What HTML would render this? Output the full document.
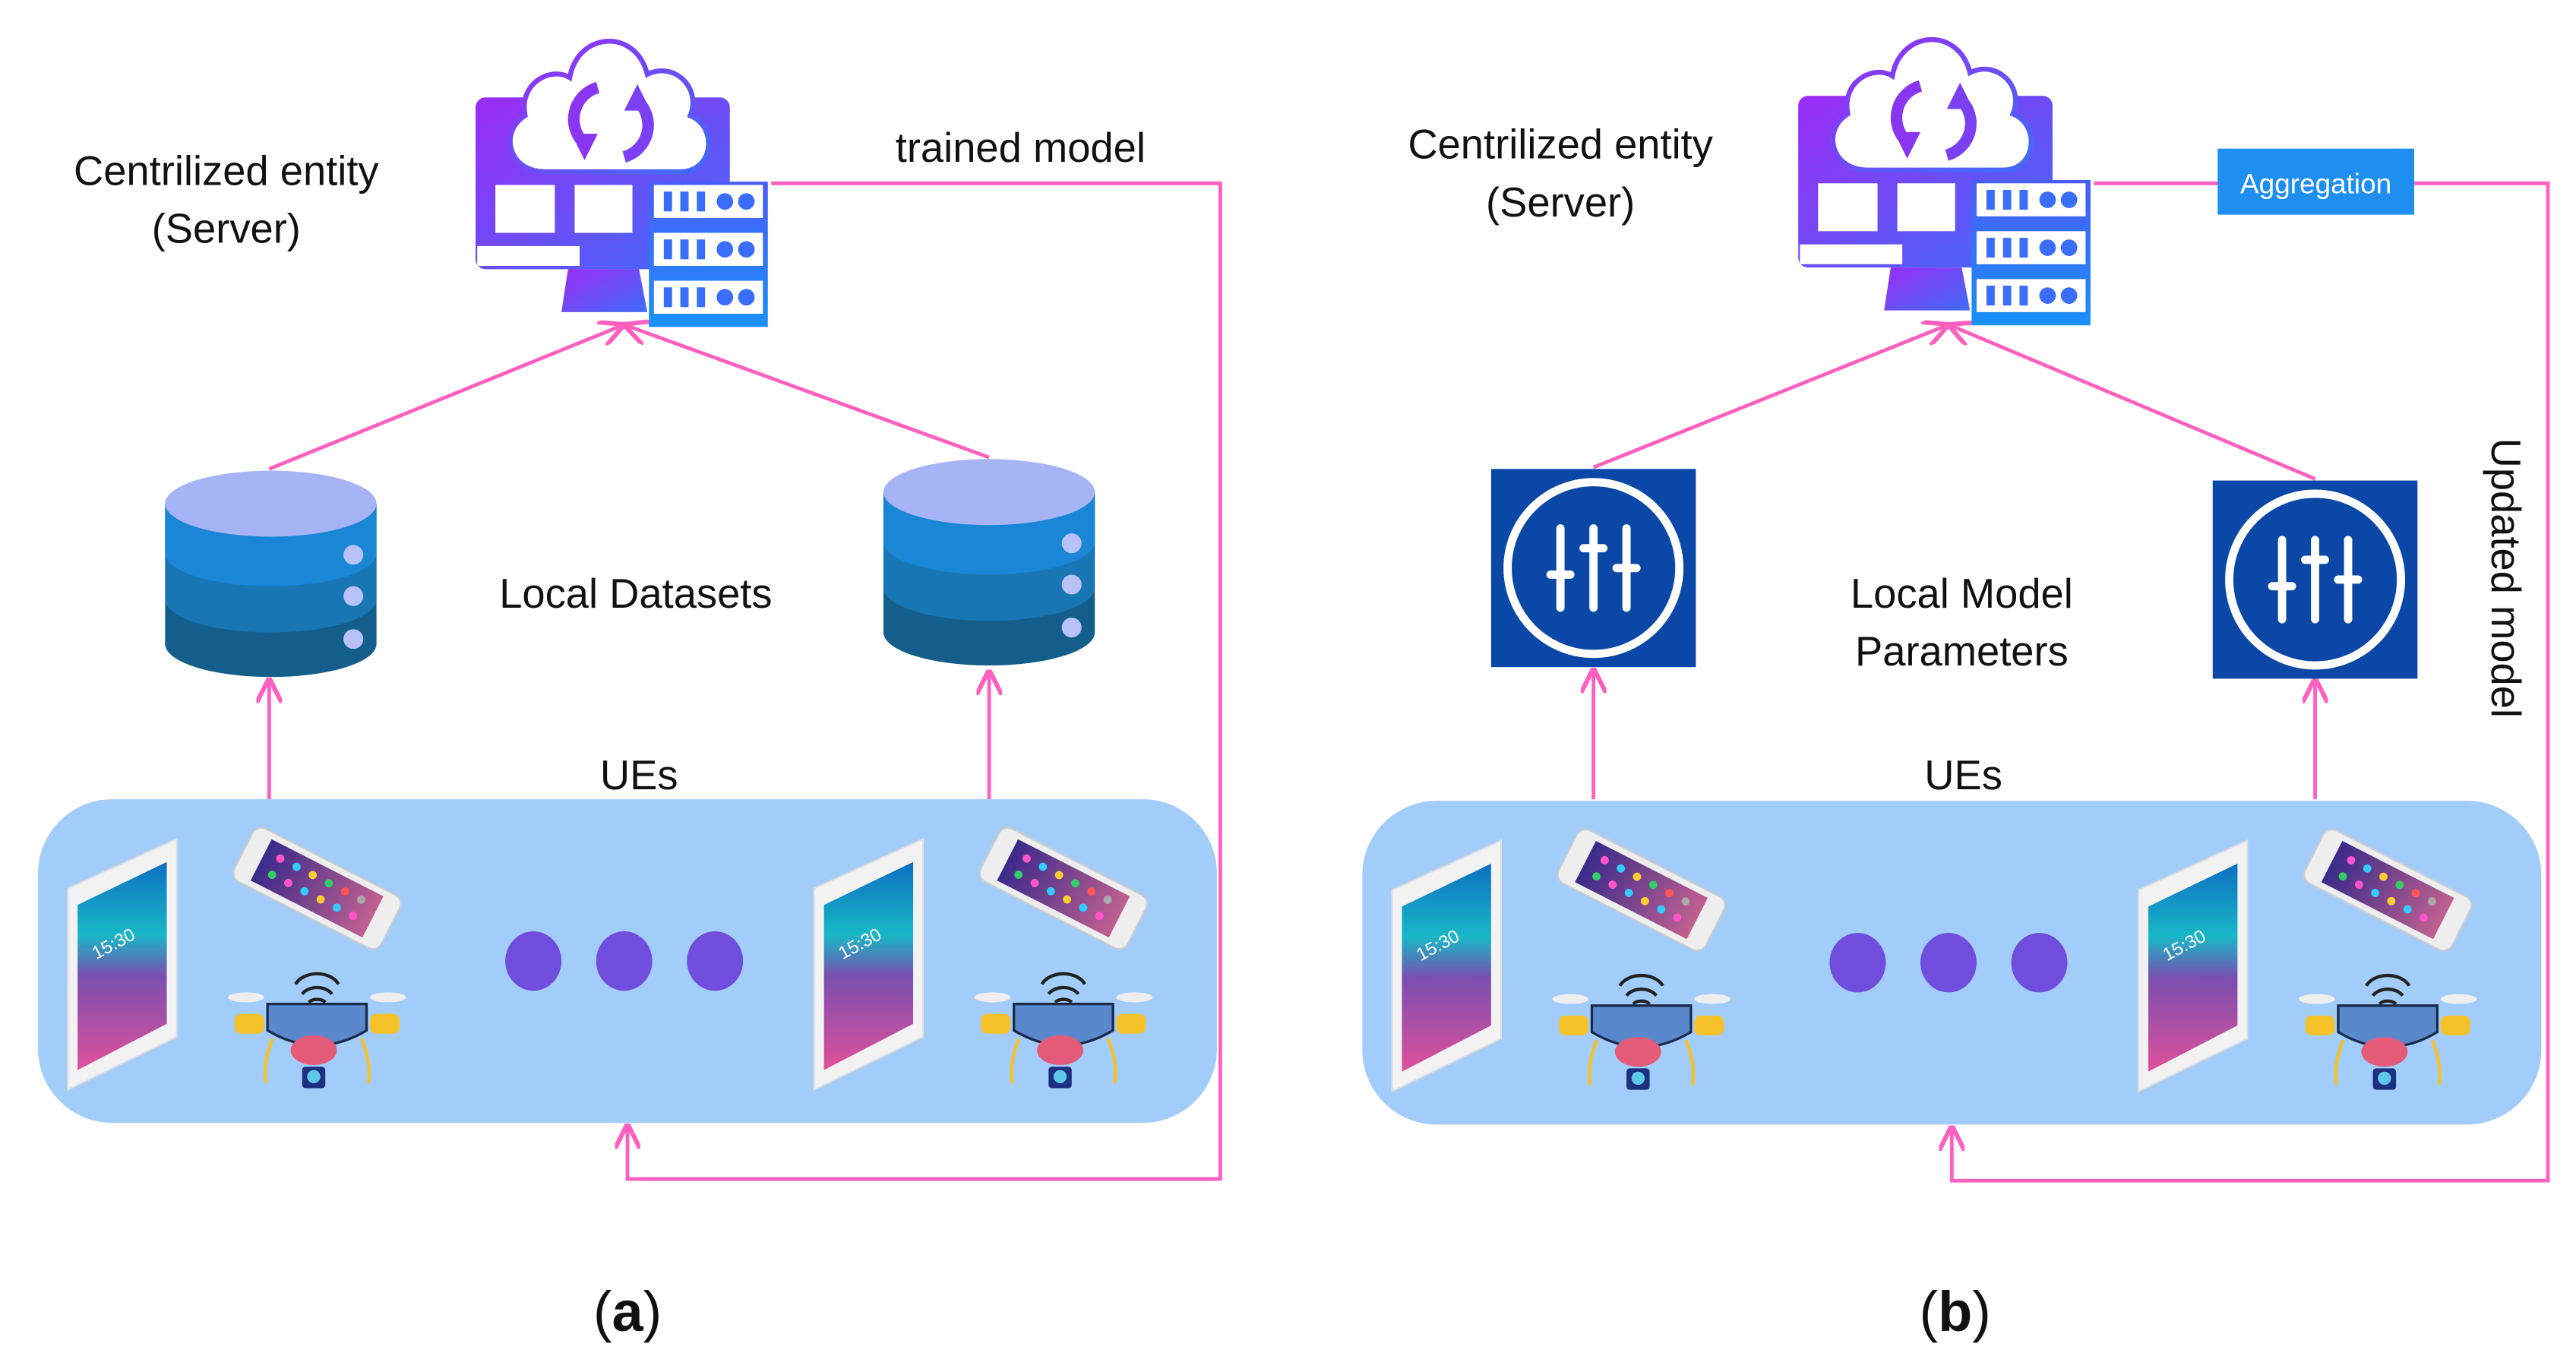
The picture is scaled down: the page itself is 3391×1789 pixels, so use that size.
<!DOCTYPE html>
<html><head><meta charset="utf-8"><style>
html,body{margin:0;padding:0;background:#fff}
svg{display:block}
text{font-family:"Liberation Sans",sans-serif}
</style></head><body>
<svg width="3391" height="1789" viewBox="0 0 1560 823" xmlns="http://www.w3.org/2000/svg">
<defs>
<linearGradient id="pg" x1="0" y1="0" x2="1" y2="1"><stop offset="0" stop-color="#9b2cf5"/><stop offset="1" stop-color="#3f6cf8"/></linearGradient>
<linearGradient id="sg" x1="0" y1="0" x2="0" y2="1"><stop offset="0" stop-color="#4a5cf8"/><stop offset="1" stop-color="#1a90f8"/></linearGradient>
<linearGradient id="scr" x1="0" y1="0" x2="0" y2="1"><stop offset="0" stop-color="#0d6fc0"/><stop offset="0.35" stop-color="#18b8c8"/><stop offset="0.55" stop-color="#7a4fb0"/><stop offset="1" stop-color="#e0509a"/></linearGradient>
<linearGradient id="pscr" x1="0" y1="0" x2="1" y2="0"><stop offset="0" stop-color="#3a2a8a"/><stop offset="1" stop-color="#c06090"/></linearGradient>
<g id="server">
  <rect x="-2" y="34" width="154" height="104" rx="6" fill="url(#pg)"/>
  <rect x="-1" y="124" width="62" height="12" fill="#fff"/>
  <path d="M54 138 L97 138 L102 164 L50 164 Z" fill="url(#pg)"/>
  <path d="M40 79 C18 79 12 55 28 45 C24 25 44 15 55 22 C60 -6 95 -8 102 20 C118 12 135 28 128 45 C145 52 142 79 122 79 Z" fill="#fff" stroke="url(#pg)" stroke-width="3"/>
  <path d="M72 28 A20 20 0 0 0 64 62" fill="none" stroke="#8a35f2" stroke-width="7"/>
  <path d="M56 56 L72 56 L64 72 Z" fill="#8a35f2"/>
  <path d="M88 70 A20 20 0 0 0 96 36" fill="none" stroke="#7a40f2" stroke-width="7"/>
  <path d="M88 42 L104 42 L96 26 Z" fill="#7a40f2"/>
  <rect x="10" y="87" width="36" height="29" fill="#fff"/>
  <rect x="58" y="87" width="35" height="29" fill="#fff"/>
  <rect x="103" y="85" width="72" height="88" fill="url(#sg)"/>
  <g fill="#fff">
    <rect x="106" y="87" width="66" height="20"/><rect x="106" y="116" width="66" height="20"/><rect x="106" y="145" width="66" height="20"/>
  </g>
  <g fill="#3a6ef8">
    <rect x="112" y="91" width="5" height="12"/><rect x="122" y="91" width="5" height="12"/><rect x="132" y="91" width="5" height="12"/><circle cx="149" cy="97" r="5"/><circle cx="162" cy="97" r="5"/>
    <rect x="112" y="120" width="5" height="12"/><rect x="122" y="120" width="5" height="12"/><rect x="132" y="120" width="5" height="12"/><circle cx="149" cy="126" r="5"/><circle cx="162" cy="126" r="5"/>
    <rect x="112" y="149" width="5" height="12"/><rect x="122" y="149" width="5" height="12"/><rect x="132" y="149" width="5" height="12"/><circle cx="149" cy="155" r="5"/><circle cx="162" cy="155" r="5"/>
  </g>
</g>
<g id="db">
  <path d="M0 20 L0 105 A64 20 0 0 0 128 105 L128 20 Z" fill="#145e8c"/>
  <path d="M0 20 L0 78 A64 20 0 0 0 128 78 L128 20 Z" fill="#1876b4"/>
  <path d="M0 20 L0 50 A64 20 0 0 0 128 50 L128 20 Z" fill="#1a86d6"/>
  <ellipse cx="64" cy="20" rx="64" ry="20" fill="#a6b4f6"/>
  <circle cx="114" cy="51" r="6" fill="#b9c2f8"/><circle cx="114" cy="76" r="6" fill="#b9c2f8"/><circle cx="114" cy="102" r="6" fill="#b9c2f8"/>
</g>
<g id="param">
  <rect x="0" y="0" width="124" height="120" fill="#0b47a6"/>
  <circle cx="62" cy="60" r="52" fill="none" stroke="#fff" stroke-width="5"/>
  <g stroke="#fff" stroke-width="5" stroke-linecap="round">
    <line x1="42" y1="36" x2="42" y2="84"/><line x1="62" y1="36" x2="62" y2="84"/><line x1="82" y1="36" x2="82" y2="84"/>
    <line x1="36" y1="64" x2="48" y2="64"/><line x1="56" y1="48" x2="68" y2="48"/><line x1="76" y1="60" x2="88" y2="60"/>
  </g>
</g>
<g id="tablet">
  <path d="M8 30 L74 0 L74 120 L8 152 Z" fill="#f2f2f2" stroke="#ddd"/>
  <path d="M14 40 L68 14 L68 112 L14 140 Z" fill="url(#scr)"/>
  <text x="22" y="70" font-size="11" fill="#fff" transform="rotate(-28 30 65)">15:30</text>
</g>
<g id="phone">
  <g transform="rotate(27)">
    <rect x="-50" y="-18" width="100" height="36" rx="6" fill="#eee" stroke="#ccc"/>
    <rect x="-38" y="-14" width="76" height="28" fill="url(#pscr)"/>
    <g><circle cx="-28" cy="-6" r="2.5" fill="#f5c"/><circle cx="-17" cy="-6" r="2.5" fill="#3cf"/><circle cx="-6" cy="-6" r="2.5" fill="#fc3"/><circle cx="5" cy="-6" r="2.5" fill="#3c6"/><circle cx="16" cy="-6" r="2.5" fill="#f55"/><circle cx="27" cy="-6" r="2.5" fill="#aaa"/>
    <circle cx="-28" cy="5" r="2.5" fill="#3c6"/><circle cx="-17" cy="5" r="2.5" fill="#f5c"/><circle cx="-6" cy="5" r="2.5" fill="#3cf"/><circle cx="5" cy="5" r="2.5" fill="#fc3"/><circle cx="16" cy="5" r="2.5" fill="#3cf"/><circle cx="27" cy="5" r="2.5" fill="#f5c"/></g>
  </g>
</g>
<g id="drone">
  <path d="M42 12 A14 10 0 0 1 68 12 M46 18 A10 7 0 0 1 64 18 M50 23 A6 4 0 0 1 60 23" fill="none" stroke="#222" stroke-width="2"/>
  <ellipse cx="12" cy="20" rx="11" ry="3" fill="#eee"/><ellipse cx="98" cy="20" rx="11" ry="3" fill="#eee"/>
  <rect x="5" y="30" width="18" height="12" rx="4" fill="#f5c22a"/><rect x="87" y="30" width="18" height="12" rx="4" fill="#f5c22a"/>
  <path d="M25 24 L85 24 L85 40 Q55 58 25 40 Z" fill="#5a88cc" stroke="#1a2a4a" stroke-width="1.5"/>
  <ellipse cx="53" cy="52" rx="14" ry="9" fill="#e45b7a"/>
  <path d="M28 45 Q22 60 24 72 M82 45 Q88 60 86 72" fill="none" stroke="#f5c22a" stroke-width="2"/>
  <rect x="46" y="62" width="14" height="13" rx="2" fill="#1d2f80"/><circle cx="53" cy="68" r="4" fill="#5ec8e8"/>
</g>
<g id="ues">
  <rect x="0" y="0" width="714" height="196" rx="45" fill="#a2cdfb"/>
  <use href="#tablet" x="10" y="24"/>
  <use href="#phone" x="169" y="54"/>
  <use href="#drone" x="114" y="100"/>
  <ellipse cx="300" cy="98" rx="17" ry="18" fill="#704ddd"/>
  <ellipse cx="355" cy="98" rx="17" ry="18" fill="#704ddd"/>
  <ellipse cx="410" cy="98" rx="17" ry="18" fill="#704ddd"/>
  <use href="#tablet" x="462" y="24"/>
  <use href="#phone" x="621" y="54"/>
  <use href="#drone" x="566" y="100"/>
</g>
<marker id="ar" viewBox="0 0 10 10" refX="9" refY="5" markerWidth="7" markerHeight="7" orient="auto"><path d="M0 0 L10 5 L0 10" fill="none" stroke="#ff5fbf" stroke-width="1.8"/></marker>
</defs>

<g stroke="#ff5fbf" stroke-width="2.2" fill="none">
  <polyline points="467,111 739,111 739,714 380,714 380,682" marker-end="url(#ar)"/>
  <line x1="163" y1="284" x2="377" y2="197" marker-end="url(#ar)"/>
  <line x1="599" y1="277" x2="379" y2="197" marker-end="url(#ar)"/>
  <line x1="163" y1="484" x2="163" y2="412" marker-end="url(#ar)"/>
  <line x1="599" y1="484" x2="599" y2="407" marker-end="url(#ar)"/>
  <polyline points="1268,111 1543,111 1543,715 1182,715 1182,683" marker-end="url(#ar)"/>
  <line x1="965" y1="283" x2="1179" y2="197" marker-end="url(#ar)"/>
  <line x1="1402" y1="290" x2="1181" y2="197" marker-end="url(#ar)"/>
  <line x1="965" y1="484" x2="965" y2="406" marker-end="url(#ar)"/>
  <line x1="1402" y1="484" x2="1402" y2="412" marker-end="url(#ar)"/>
</g>

<use href="#server" x="290" y="25"/>
<use href="#server" x="1091" y="24"/>
<use href="#db" x="100" y="285"/>
<use href="#db" x="535" y="278"/>
<use href="#param" x="903" y="284"/>
<use href="#param" x="1340" y="291"/>
<use href="#ues" x="23" y="484"/>
<use href="#ues" x="825" y="485"/>

<rect x="1343" y="90" width="119" height="40" fill="#1e8ff0"/>
<text x="1402.5" y="117" font-size="17" fill="#fff" text-anchor="middle">Aggregation</text>

<g font-size="25" fill="#111" text-anchor="middle">
  <text x="137" y="112">Centrilized entity</text>
  <text x="137" y="147">(Server)</text>
  <text x="618" y="98">trained model</text>
  <text x="385" y="368">Local Datasets</text>
  <text x="387" y="478">UEs</text>
  <text x="945" y="96">Centrilized entity</text>
  <text x="945" y="131">(Server)</text>
  <text x="1188" y="368">Local Model</text>
  <text x="1188" y="403">Parameters</text>
  <text x="1189" y="478">UEs</text>
  <text transform="translate(1509,350) rotate(90)" x="0" y="0">Updated model</text>
</g>
<g font-family="Liberation Serif,serif" font-size="34" fill="#111" text-anchor="middle">
  <text x="380" y="806">(<tspan font-weight="bold">a</tspan>)</text>
  <text x="1184" y="806">(<tspan font-weight="bold">b</tspan>)</text>
</g>
</svg>
</body></html>
